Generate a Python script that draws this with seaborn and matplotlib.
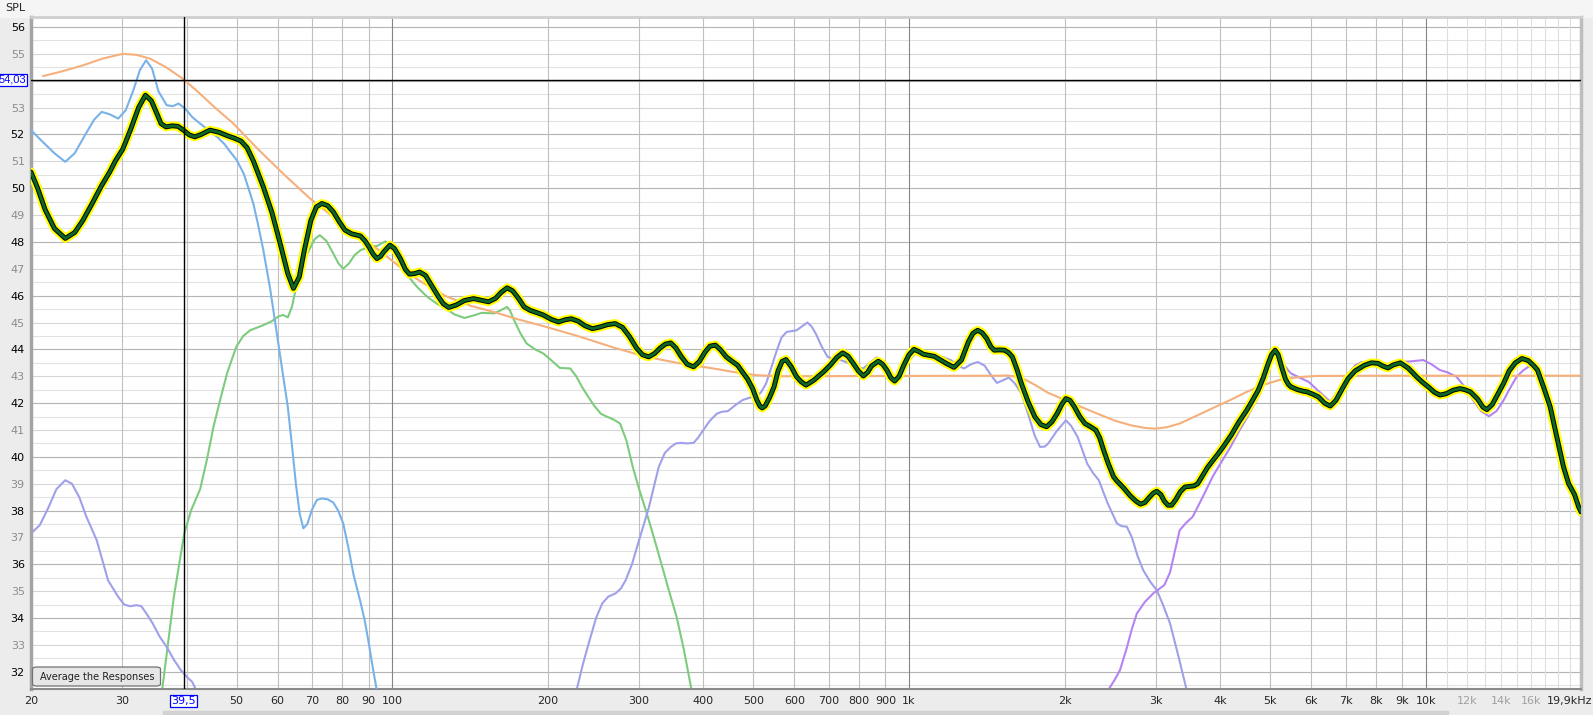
import numpy as np
import pandas as pd
import matplotlib.pyplot as plt
import seaborn as sns
from matplotlib.patches import FancyBboxPatch, Rectangle

# ---- data (Hz, dB SPL) ----
avg_freq = [20, 20.6, 21.3, 22.2, 23.3, 24.3, 25.2, 26.3, 27.4, 28.4, 29.1, 30.1, 31.2, 32.3, 33.3,
            34.2, 35.0, 35.7, 36.5, 37.5, 38.5, 39.5, 40.5, 41.5, 42.7, 44.4, 46.2, 48.0, 49.5, 51.0,
            52.4, 53.9, 56.3, 58.5, 60.7, 62.8, 64.4, 66.1, 67.6, 69.6, 71.3, 73.1, 75.0, 76.9, 79,
            81.0, 83.5, 86.8, 88.5, 90.2, 91.8, 93.4, 95.0, 96.3, 99, 101, 103.7, 106, 108, 110.5,
            113, 116, 119, 122.5, 125.5, 128.6, 133, 138, 143.7, 148.5, 153.6, 158.5, 162.5, 166.8, 171,
            175.5, 180, 185, 191, 196, 203, 209.8, 216, 222, 229, 236, 244, 252, 261,
            270, 279, 288, 297, 305, 313.6, 322, 330, 338, 346, 354, 362, 372, 383,
            393, 403, 412, 422, 432, 443, 455, 466, 476, 487, 498, 508, 515, 520, 527,
            537, 548, 558, 568, 578, 592, 605, 618, 632, 654, 683, 704, 725, 744,
            762, 780, 798, 816, 832, 846, 872, 889, 906, 922, 938, 957, 977, 1000, 1022,
            1045, 1066, 1120, 1180, 1222, 1263, 1303, 1330, 1358, 1385, 1413, 1440, 1462, 1495, 1530,
            1558, 1585, 1618, 1650, 1700, 1752, 1800, 1846, 1890, 1935, 1975, 2012, 2050, 2090, 2140,
            2190, 2246, 2300, 2340, 2380, 2430, 2488, 2526, 2600, 2680, 2750, 2804, 2860, 2920, 2970,
            3016, 3070, 3120, 3170, 3222, 3280, 3350, 3420, 3494, 3560, 3620, 3700, 3780, 3878, 3960,
            4054, 4200, 4350, 4506, 4620, 4740, 4850, 4950, 5030, 5110, 5180, 5260, 5350, 5420, 5488,
            5650, 5800, 5890, 6050, 6200, 6370, 6534, 6700, 6900, 7078, 7300, 7610, 7850, 8080, 8260,
            8450, 8650, 8930, 9250, 9600, 9850, 10120, 10400, 10650, 10950, 11300, 11650, 11900, 12200, 12600,
            12900, 13130, 13450, 13800, 14140, 14500, 14900, 15350, 15800, 16200, 16450, 16900, 17410, 17900, 18470,
            18900, 19400, 19760, 19970]
avg_spl = [50.6, 50.0, 49.2, 48.5, 48.13, 48.35, 48.8, 49.45, 50.1, 50.6, 51.0, 51.45, 52.2, 53.0, 53.46,
           53.25, 52.8, 52.4, 52.28, 52.32, 52.3, 52.15, 51.98, 51.91, 52.0, 52.16, 52.08, 51.95, 51.86, 51.75,
           51.5, 51.0, 50.05, 49.1, 47.94, 46.82, 46.27, 46.7, 47.69, 48.8, 49.3, 49.43, 49.35, 49.12, 48.75,
           48.44, 48.3, 48.22, 48.05, 47.81, 47.55, 47.38, 47.47, 47.63, 47.88, 47.75, 47.38, 46.98, 46.8, 46.82,
           46.88, 46.75, 46.4, 46.0, 45.7, 45.56, 45.65, 45.82, 45.89, 45.83, 45.77, 45.9, 46.12, 46.29, 46.18,
           45.9, 45.58, 45.45, 45.36, 45.28, 45.12, 45.02, 45.1, 45.14, 45.05, 44.88, 44.77, 44.83, 44.92,
           44.96, 44.82, 44.47, 44.05, 43.8, 43.72, 43.85, 44.05, 44.2, 44.24, 44.05, 43.75, 43.45, 43.35,
           43.55, 43.9, 44.12, 44.16, 43.98, 43.72, 43.55, 43.41, 43.16, 42.9, 42.55, 42.1, 41.88, 41.82, 41.9,
           42.2, 42.6, 43.2, 43.55, 43.62, 43.35, 43.0, 42.8, 42.67, 42.85, 43.16, 43.41, 43.7, 43.87,
           43.75, 43.48, 43.2, 43.01, 43.15, 43.38, 43.56, 43.45, 43.23, 42.95, 42.82, 43.0, 43.41, 43.8, 44.0,
           43.92, 43.82, 43.74, 43.48, 43.33, 43.6, 44.28, 44.6, 44.71, 44.62, 44.41, 44.1, 43.97, 43.98, 43.97,
           43.88, 43.72, 43.25, 42.73, 42.05, 41.49, 41.2, 41.12, 41.3, 41.61, 41.95, 42.17, 42.1, 41.86, 41.5,
           41.24, 41.12, 40.99, 40.7, 40.25, 39.75, 39.26, 39.1, 38.85, 38.55, 38.35, 38.24, 38.3, 38.5, 38.65,
           38.72, 38.6, 38.35, 38.2, 38.2, 38.4, 38.7, 38.88, 38.9, 38.92, 39.0, 39.3, 39.6, 39.88, 40.1,
           40.37, 40.8, 41.3, 41.74, 42.1, 42.48, 42.95, 43.45, 43.8, 43.97, 43.8, 43.35, 42.9, 42.7, 42.6,
           42.5, 42.44, 42.42, 42.33, 42.23, 42.0, 41.89, 42.1, 42.55, 42.92, 43.2, 43.41, 43.5, 43.48, 43.38,
           43.31, 43.42, 43.5, 43.3, 42.98, 42.78, 42.6, 42.4, 42.3, 42.35, 42.48, 42.54, 42.5, 42.42, 42.15,
           41.85, 41.76, 41.95, 42.35, 42.73, 43.2, 43.5, 43.66, 43.58, 43.38, 43.23, 42.6, 41.86, 40.8, 39.63,
           39.0, 38.6, 38.14, 37.95]

target_freq = [21.1, 23, 25.2, 27.5, 30.1, 32, 34, 36.5, 39.3, 42, 45.5, 49.3, 55, 61.5, 69, 76.9, 85,
               93.4, 103, 113, 127, 142, 158, 175, 200, 231, 270, 311, 360, 418, 470, 507, 560, 1500,
               1550, 1650, 1752, 1860, 2012, 2160, 2320, 2500, 2680, 2850, 2990, 3150, 3340, 3620, 3878,
               4190, 4506, 4850, 5230, 5700, 6150, 8000, 19970]
target_spl = [54.17, 54.35, 54.57, 54.82, 55.0, 54.96, 54.82, 54.5, 54.08, 53.6, 52.98, 52.4, 51.45, 50.54,
              49.65, 48.93, 48.3, 47.75, 47.1, 46.55, 45.98, 45.62, 45.38, 45.12, 44.82, 44.47, 44.05, 43.72,
              43.48, 43.29, 43.12, 43.04, 43.0, 43.02, 43.03, 42.95, 42.68, 42.38, 42.1, 41.85, 41.6, 41.35,
              41.18, 41.08, 41.05, 41.1, 41.24, 41.55, 41.82, 42.12, 42.42, 42.68, 42.87, 42.97, 43.01, 43.02,
              43.02]

sub_freq = [20, 21, 22.2, 23.3, 24.3, 25.4, 26.5, 27.4, 28.4, 29.5, 30.5, 31.5, 32.5, 33.4, 34.3, 35.3,
            36.6, 37.6, 38.6, 39.8, 41, 42.5, 44.2, 45.9, 47.3, 48.6, 50, 51.6, 52.8, 53.9, 55, 56.3, 58,
            59.8, 61.3, 62.8, 64, 65.1, 66.2, 67.3, 68.5, 70, 71.5, 73.1, 75, 76.9, 78.6, 80.4, 82.3,
            84.2, 86.8, 88.5, 90.2, 91.8, 93.4]
sub_spl = [52.16, 51.75, 51.3, 50.98, 51.3, 51.95, 52.55, 52.84, 52.75, 52.59, 52.9, 53.6, 54.4, 54.76,
           54.45, 53.6, 53.09, 53.05, 53.15, 52.95, 52.65, 52.4, 52.15, 51.9, 51.65, 51.35, 51.05, 50.54,
           49.95, 49.4, 48.65, 47.7, 46.3, 44.6, 43.2, 41.86, 40.4, 39.0, 37.9, 37.34, 37.5, 38.05, 38.4,
           38.45, 38.42, 38.3, 38.0, 37.52, 36.6, 35.6, 34.6, 33.9, 33.0, 32.1, 31.3]

woofer_freq = [35.9, 36.8, 37.8, 38.7, 39.6, 40.8, 42.5, 43.8, 45.1, 46.5, 47.9, 49.9, 51.5, 53.1, 56.3,
               58.5, 60.3, 61.5, 62.8, 64, 65.4, 67.2, 69.0, 70.8, 72.4, 74.5, 76.9, 78.7, 80.4, 82.5,
               84.5, 86.8, 90, 93.5, 97, 100, 103.7, 107.8, 112, 117, 122, 127, 132, 138, 143, 149, 153,
               157.7, 162, 166.8, 169, 172, 177, 182, 189, 196, 203, 211, 216, 221, 227, 233, 239.6, 246,
               253.5, 260, 268, 276, 284, 292, 301, 311, 322, 333, 344, 355, 367, 379]
woofer_spl = [31.38, 33.0, 34.8, 36.0, 37.15, 38.0, 38.8, 39.9, 41.12, 42.15, 43.1, 44.09, 44.5, 44.71,
              44.9, 45.05, 45.23, 45.28, 45.19, 45.6, 46.45, 47.2, 47.69, 48.1, 48.25, 48.05, 47.57, 47.2,
              47.0, 47.2, 47.5, 47.69, 47.8, 47.85, 48.02, 47.8, 47.26, 46.68, 46.3, 45.95, 45.7, 45.52,
              45.3, 45.17, 45.25, 45.36, 45.35, 45.34, 45.45, 45.58, 45.45, 45.1, 44.6, 44.22, 44.0, 43.85,
              43.6, 43.31, 43.3, 43.29, 43.0, 42.6, 42.23, 41.9, 41.6, 41.5, 41.39, 41.24, 40.6, 39.63,
              38.75, 37.89, 36.9, 35.91, 34.95, 34.05, 32.8, 31.38]

mid_low_freq = [20, 20.8, 21.6, 22.4, 23.3, 24.0, 24.8, 25.6, 26.8, 28.2, 29.5, 30.3, 31.1, 32.0, 32.7,
                33.5, 34.4, 35.5, 36.6, 37.8, 39.0, 40.1, 41.0, 41.6]
mid_low_spl = [37.15, 37.46, 38.1, 38.8, 39.13, 39.0, 38.5, 37.77, 36.9, 35.4, 34.79, 34.5, 34.44, 34.48,
               34.44, 34.15, 33.8, 33.3, 32.93, 32.45, 32.06, 31.8, 31.63, 31.38]

mid_freq = [227.8, 234, 241, 248, 255, 262, 270.5, 277, 283, 291, 300.4, 307, 314, 321, 328, 337, 346,
            354, 362, 372, 383, 391, 400, 412, 425, 435, 446, 461, 476, 491, 506, 517, 529, 541, 555,
            567, 580, 593, 606, 620, 636, 648, 660, 678, 696, 715, 733, 750, 766, 790, 816, 840, 866,
            890, 920, 940, 965, 1000, 1030, 1075, 1120, 1160, 1205, 1240, 1278, 1320, 1358, 1400, 1440,
            1480, 1520, 1560, 1600, 1650, 1700, 1750, 1793, 1830, 1860, 1930, 2012, 2060, 2120, 2170,
            2212, 2270, 2330, 2420, 2526, 2580, 2640, 2700, 2770, 2840, 2930, 3016, 3100, 3200, 3320, 3440]
mid_spl = [31.38, 32.3, 33.18, 34.0, 34.55, 34.8, 34.92, 35.1, 35.41, 36.0, 36.9, 37.5, 38.14, 38.9,
           39.63, 40.15, 40.37, 40.5, 40.52, 40.5, 40.52, 40.72, 41.0, 41.35, 41.61, 41.68, 41.7, 41.92,
           42.11, 42.2, 42.23, 42.4, 42.73, 43.3, 43.97, 44.45, 44.65, 44.68, 44.71, 44.85, 45.0, 44.85,
           44.59, 44.1, 43.72, 43.64, 43.62, 43.55, 43.48, 43.35, 43.29, 43.5, 43.7, 43.45, 42.98, 42.85,
           43.2, 43.6, 43.85, 43.85, 43.82, 43.72, 43.6, 43.4, 43.29, 43.45, 43.53, 43.4, 43.05, 42.75,
           42.85, 42.95, 42.75, 42.36, 41.6, 40.8, 40.37, 40.38, 40.5, 40.95, 41.36, 41.15, 40.74, 40.2,
           39.75, 39.4, 39.13, 38.3, 37.52, 37.42, 37.4, 37.0, 36.3, 35.78, 35.35, 35.04, 34.5, 33.8,
           32.6, 31.38]

tweeter_freq = [2440, 2500, 2560, 2640, 2700, 2760, 2860, 2970, 3120, 3200, 3340, 3440, 3540, 3700, 3878,
                4050, 4190, 4350, 4506, 4640, 4784, 4920, 5060, 5110, 5250, 5400, 5488, 5700, 5935, 6200,
                6534, 6800, 7078, 7300, 7520, 7850, 8200, 8500, 8830, 9300, 9890, 10250, 10650, 11000,
                11470, 11900, 12360, 12800, 13250, 13700, 14140, 14550, 14990, 15400, 15790, 16100, 16500,
                17000, 17410, 17900, 18470, 19100, 19760]
tweeter_spl = [31.38, 31.7, 32.06, 32.9, 33.6, 34.17, 34.6, 34.92, 35.23, 35.7, 37.27, 37.55, 37.77, 38.5,
               39.3, 39.9, 40.37, 40.95, 41.45, 41.9, 42.36, 43.1, 43.85, 43.95, 43.6, 43.25, 43.1, 42.95,
               42.79, 42.45, 42.05, 42.5, 43.1, 43.4, 43.53, 43.52, 43.48, 43.45, 43.53, 43.55, 43.6,
               43.45, 43.23, 43.15, 42.98, 42.6, 42.1, 41.7, 41.51, 41.7, 42.1, 42.55, 42.98, 43.2, 43.35,
               43.35, 43.2, 42.6, 41.86, 40.8, 39.63, 38.9, 38.14]

cursor_freq = 39.5
cursor_spl = 54.03

x_tick_vals = [20, 30, 50, 60, 70, 80, 90, 100, 200, 300, 400, 500, 600, 700, 800, 900,
               1000, 2000, 3000, 4000, 5000, 6000, 7000, 8000, 9000, 10000, 12000, 14000, 16000]
x_tick_text = ["20", "30", "50", "60", "70", "80", "90", "100", "200", "300", "400", "500", "600",
               "700", "800", "900", "1k", "2k", "3k", "4k", "5k", "6k", "7k", "8k", "9k", "10k",
               "12k", "14k", "16k"]
x_grid = [30, 40, 50, 60, 70, 80, 90, 200, 300, 400, 500, 600, 700, 800, 900,
          2000, 3000, 4000, 5000, 6000, 7000, 8000, 9000]
x_grid_decade = [100, 1000, 10000]
x_grid_hi = [11000, 12000, 13000, 14000, 15000, 16000, 17000, 18000, 19000]
y_ticks = [32, 33, 34, 35, 36, 37, 38, 39, 40, 41, 42, 43, 44, 45, 46, 47, 48, 49, 50, 51, 52, 53, 55, 56]

# ---- figure ----
sns.set_style("white")
plt.rcParams["font.family"] = ["DejaVu Sans"]

W, H = 1593, 715
fig = plt.figure(figsize=(W / 100, H / 100), dpi=100, facecolor="#ececec")
fig.patches.append(Rectangle((0, 1 - 17 / H), 1, 17 / H, transform=fig.transFigure,
                             color="#f5f5f5", zorder=-5))
fig.patches.append(Rectangle((163 / W, 0), (1448 - 163) / W, 4 / H, transform=fig.transFigure,
                             color="#d2d2d2", zorder=-5))
ax = fig.add_axes([31 / W, 26 / H, 1550 / W, 672 / H])
ax.set_facecolor("white")
ax.set_xscale("log")
ax.set_xlim(20, 19970)
ax.set_ylim(31.36, 56.37)

# grid
xt = ax.get_xaxis_transform()
yt = ax.get_yaxis_transform()
half = [v + 0.5 for v in range(31, 56)]
odd = [v for v in range(32, 57) if v % 2]
even = [v for v in range(32, 57) if v % 2 == 0]
ax.hlines(half, 0, 1, transform=yt, colors="#e2e2e2", lw=0.8, zorder=0)
ax.hlines(odd, 0, 1, transform=yt, colors="#d6d6d6", lw=0.8, zorder=0)
ax.hlines(even, 0, 1, transform=yt, colors="#b4b4b4", lw=0.8, zorder=0)
ax.vlines(x_grid_hi, 0, 1, transform=xt, colors="#dedede", lw=0.8, zorder=0)
ax.vlines(x_grid, 0, 1, transform=xt, colors="#c0c0c0", lw=0.8, zorder=0)
ax.vlines(x_grid_decade, 0, 1, transform=xt, colors="#858585", lw=0.8, zorder=0)

# traces
thin = 1.5
sns.lineplot(x=woofer_freq, y=woofer_spl, ax=ax, color="#7dcc7d", lw=thin, estimator=None, zorder=2)
sns.lineplot(x=mid_low_freq, y=mid_low_spl, ax=ax, color="#a0a0ea", lw=thin, estimator=None, zorder=2)
sns.lineplot(x=mid_freq, y=mid_spl, ax=ax, color="#a0a0ea", lw=thin, estimator=None, zorder=2)
sns.lineplot(x=tweeter_freq, y=tweeter_spl, ax=ax, color="#b384f2", lw=thin, estimator=None, zorder=2)
sns.lineplot(x=sub_freq, y=sub_spl, ax=ax, color="#78b2e8", lw=thin, estimator=None, zorder=3)
sns.lineplot(x=target_freq, y=target_spl, ax=ax, color="#f5b07c", lw=thin, estimator=None, zorder=3)
for c, w in [("#ffff00", 6.4), ("#000000", 3.5), ("#0d6626", 2.1)]:
    sns.lineplot(x=avg_freq, y=avg_spl, ax=ax, color=c, lw=w, estimator=None, zorder=5,
                 solid_joinstyle="round", solid_capstyle="round")

# cursor
ax.axvline(cursor_freq, color="black", lw=1.0, zorder=6)
ax.axhline(cursor_spl, color="black", lw=1.0, zorder=6)
box = dict(boxstyle="square,pad=0.1", fc="white", ec="#0000ff", lw=0.9)
ax.text(-5 / 1550, cursor_spl, f"{cursor_spl:.2f}".replace(".", ","), transform=yt, ha="right",
        va="center", color="#0000ff", fontsize=8, family="Liberation Sans", bbox=box,
        clip_on=False, zorder=7)
ax.text(cursor_freq, -12 / 672, f"{cursor_freq:.1f}".replace(".", ","), transform=xt, ha="center",
        va="center", color="#0000ff", fontsize=8, bbox=box, clip_on=False, zorder=7)

# ticks
ax.set_xticks(x_tick_vals, x_tick_text)
ax.xaxis.set_minor_locator(plt.NullLocator())
ax.set_yticks(y_ticks, [str(v) for v in y_ticks])
ax.tick_params(axis="x", length=0, pad=5, labelsize=8)
ax.tick_params(axis="y", length=0, pad=4.5, labelsize=8)
for lab in ax.get_xticklabels():
    if lab.get_text() in ("12k", "14k", "16k"):
        lab.set_color("#a0a0a0")
for lab, v in zip(ax.get_yticklabels(), y_ticks):
    lab.set_color("black" if v % 2 == 0 else "#8c8c8c")
ax.set_xlabel("")
ax.set_ylabel("")
fig.text(1 - 1 / W, 1 - 701 / H, "19,9kHz", ha="right", va="center", fontsize=8)
fig.text(15 / W, 1 - 8 / H, "SPL", ha="center", va="center", fontsize=8)

# frame
ax.spines["left"].set(color="#a4a4a4", lw=2.5)
ax.spines["top"].set(color="#cfcfcf", lw=2)
ax.spines["right"].set(color="#bdbdbd", lw=2.5)
ax.spines["bottom"].set(color="#8a8a8a", lw=1.5)

# button
ax.add_patch(FancyBboxPatch((1.5 / 1550, 3 / 672), 128 / 1550, 19 / 672,
                            boxstyle="round,pad=0,rounding_size=0.003", transform=ax.transAxes,
                            fc="#e6e6e6", ec="#707070", lw=0.9, zorder=8))
ax.text(66 / 1550, 12.5 / 672, "Average the Responses", transform=ax.transAxes, ha="center",
        va="center", fontsize=7, color="#202020", zorder=9)

fig.savefig("out.png", dpi=100, facecolor=fig.get_facecolor())
